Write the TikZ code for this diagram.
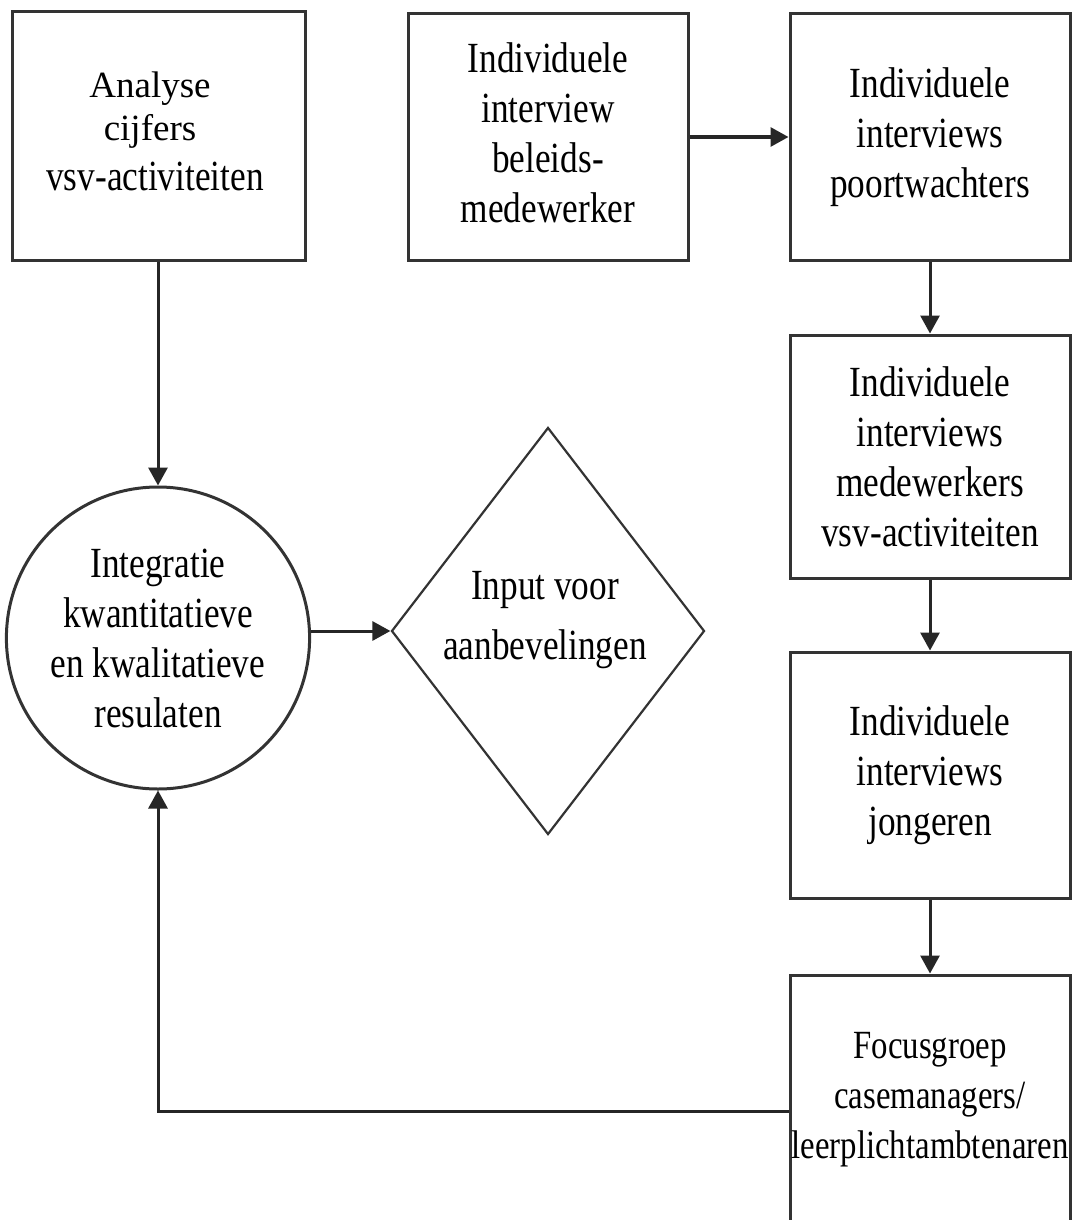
\documentclass[tikz,border=0pt]{standalone}
\usepackage{fontspec}
\setmainfont{Liberation Serif}[FakeStretch=0.82]
\newfontfamily\widefont{Liberation Serif}
\usetikzlibrary{shapes.geometric,arrows.meta}
\tikzset{
  box/.style={draw=black!80, line width=3pt, rectangle, align=center, inner sep=0pt,
    font=\fontsize{43}{50}\selectfont},
  conn/.style={draw=black!85, line width=3pt, -{Triangle[length=18pt,width=19pt]}},
}
\begin{document}
\begin{tikzpicture}[x=1pt,y=-1pt]
\useasboundingbox (0,0) rectangle (1072,1220);
\fill[white] (0,0) rectangle (1072,1220);
% boxes
\node[box, minimum width=293pt, minimum height=248pt] (A) at (158.5,136) {};
\node[font=\widefont\fontsize{37}{43}\selectfont, align=center] (At) at (150,110) {Analyse\\cijfers};
\node[font=\fontsize{43}{50}\selectfont] (At2) at (155,176) {vsv-activiteiten};
\node[box, minimum width=280pt, minimum height=246pt] (B) at (548,137) {Individuele\\interview\\beleids-\\medewerker\vphantom{g}};
\node[box, minimum width=280pt, minimum height=246pt] (C) at (930,137) {Individuele\\interviews\\poortwachters};
\node[box, minimum width=280pt, minimum height=243pt] (D) at (930,456.5) {Individuele\\interviews\\medewerkers\\vsv-activiteiten};
\node[box, minimum width=280pt, minimum height=246pt] (E) at (930,775) {Individuele\\interviews\\jongeren};
\node[box, minimum width=280pt, minimum height=250pt, font=\fontsize{40}{50}\selectfont] (F) at (930,1100) {Focusgroep\\casemanagers/\\leerplichtambtenaren};
% circle
\node[box, ellipse, minimum width=294pt, minimum height=302pt] (G) at (158,638) {Integratie\\kwantitatieve\\en kwalitatieve\\resulaten};
% diamond
\node[draw=black!80, line width=2.2pt, diamond, minimum width=313pt, minimum height=407pt, inner sep=0pt] (H) at (548,631) {};
\node[font=\fontsize{43}{60}\selectfont, align=center] (Ht) at (545,620) {Input voor\\aanbevelingen};
% connectors
\draw[conn] (A.south -| G.north) -- (G.north);
\draw[conn] (B.east) -- (C.west);
\draw[conn] (C.south) -- (D.north);
\draw[conn] (D.south) -- (E.north);
\draw[conn] (E.south) -- (F.north);
\draw[conn] (G.east |- H.west) -- (H.west);
\coordinate (fl) at ([yshift=-11pt]F.west);
\draw[conn] (fl) -| (G.south);
\end{tikzpicture}
\end{document}
